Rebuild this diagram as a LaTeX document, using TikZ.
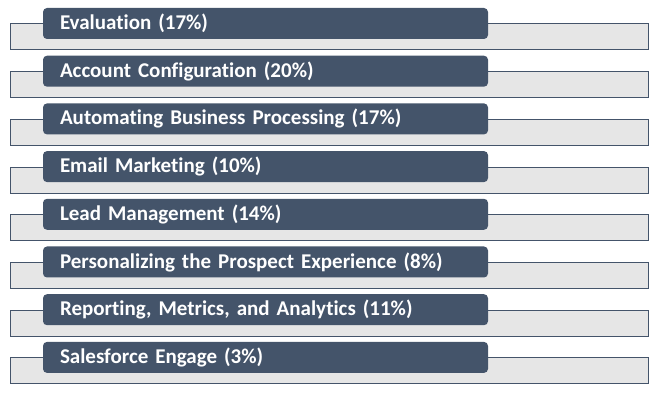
\documentclass[tikz,border=0pt]{standalone}
\usepackage{fontspec}
\setmainfont{Carlito}[BoldFont={Carlito Bold}, Ligatures=NoCommon]
\usetikzlibrary{positioning}
\definecolor{slate}{HTML}{44546A}
\definecolor{shade}{HTML}{E6E6E6}

\begin{document}
\begin{tikzpicture}[x=1pt, y=-1pt, node distance=21.7pt,
  bar/.style={draw=slate, fill=shade, line width=1pt, minimum width=638pt, minimum height=26pt, inner sep=0pt, outer sep=0pt, anchor=north west},
  tag/.style={fill=slate, rounded corners=4pt, text=white, font=\bfseries\fontsize{21}{22}\selectfont, text width=411pt, align=left, inner xsep=17pt, inner ysep=0pt, outer sep=0pt, minimum height=31pt, anchor=north west}]
\useasboundingbox (0,0) rectangle (654,395);
\node[bar] (b1) at (10,24) {};
\node[bar, below=of b1] (b2) {};
\node[bar, below=of b2] (b3) {};
\node[bar, below=of b3] (b4) {};
\node[bar, below=of b4] (b5) {};
\node[bar, below=of b5] (b6) {};
\node[bar, below=of b6] (b7) {};
\node[bar, below=of b7] (b8) {};
\node[tag] (t1) at ([xshift=33pt, yshift=16pt]b1.north west) {Evaluation (17\%)};
\node[tag] (t2) at ([xshift=33pt, yshift=16pt]b2.north west) {Account Configuration (20\%)};
\node[tag] (t3) at ([xshift=33pt, yshift=16pt]b3.north west) {Automating Business Processing (17\%)};
\node[tag] (t4) at ([xshift=33pt, yshift=16pt]b4.north west) {Email Marketing (10\%)};
\node[tag] (t5) at ([xshift=33pt, yshift=16pt]b5.north west) {Lead Management (14\%)};
\node[tag] (t6) at ([xshift=33pt, yshift=16pt]b6.north west) {Personalizing the Prospect Experience (8\%)};
\node[tag] (t7) at ([xshift=33pt, yshift=16pt]b7.north west) {Reporting, Metrics, and Analytics (11\%)};
\node[tag] (t8) at ([xshift=33pt, yshift=16pt]b8.north west) {Salesforce Engage (3\%)};
\end{tikzpicture}
\end{document}
